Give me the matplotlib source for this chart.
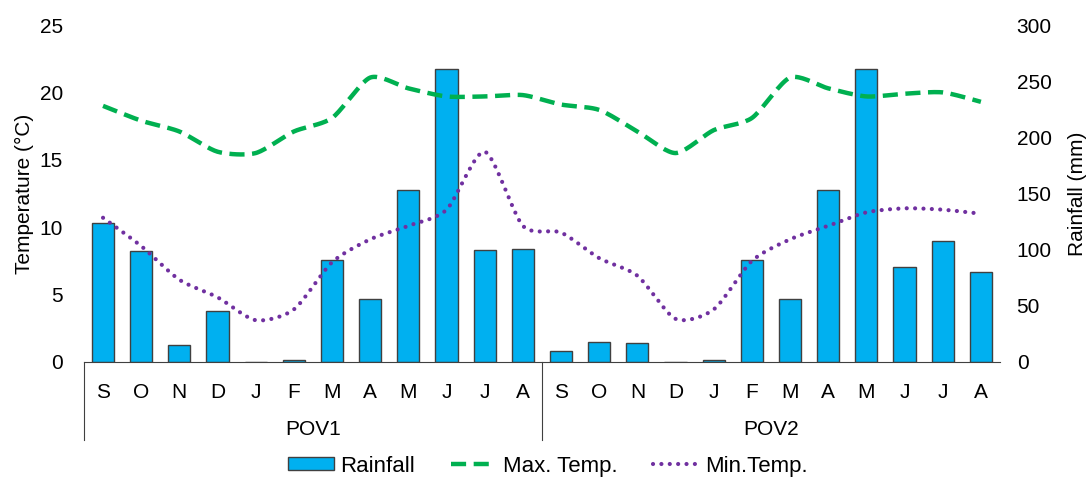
import numpy as np
import matplotlib.pyplot as plt
import matplotlib.transforms as mtransforms
from matplotlib.patches import Patch
from matplotlib.lines import Line2D

plt.rcParams['font.family'] = ['Liberation Sans', 'DejaVu Sans']

meses = ['S', 'O', 'N', 'D', 'J', 'F', 'M', 'A', 'M', 'J', 'J', 'A']
grupos = ['POV1', 'POV2']

lluvia_pov1 = [124, 99, 15, 45, 0, 2, 91, 56, 153, 261, 100, 101]
lluvia_pov2 = [10, 18, 17, 0, 2, 91, 56, 153, 261, 85, 108, 80]

tmax_pov1 = [19.0, 17.9, 17.1, 15.6, 15.5, 17.1, 18.1, 21.1, 20.3, 19.7, 19.7, 19.8]
tmax_pov2 = [19.1, 18.7, 17.1, 15.5, 17.2, 18.1, 21.1, 20.3, 19.7, 19.9, 20.0, 19.3]

tmin_pov1 = [10.7, 8.6, 6.1, 4.8, 3.1, 3.9, 7.4, 9.1, 10.1, 11.3, 15.6, 10.1]
tmin_pov2 = [9.6, 7.7, 6.4, 3.2, 3.9, 7.5, 9.1, 10.1, 11.1, 11.4, 11.3, 11.0]

lluvia = lluvia_pov1 + lluvia_pov2
tmax = tmax_pov1 + tmax_pov2
tmin = tmin_pov1 + tmin_pov2
etiquetas = meses * 2
x = np.arange(len(lluvia))


def suavizar(xs, ys, n=20, k=8):
    # curva suave tipo Excel (Bezier, puntos de control segun vecinos)
    xs = np.asarray(xs, float)
    ys = np.asarray(ys, float)
    px, py = [], []
    for i in range(len(xs) - 1):
        x0, y0 = (xs[i - 1], ys[i - 1]) if i > 0 else (xs[i], ys[i])
        x3, y3 = (xs[i + 2], ys[i + 2]) if i + 2 < len(xs) else (xs[i + 1], ys[i + 1])
        x1, y1 = xs[i], ys[i]
        x2, y2 = xs[i + 1], ys[i + 1]
        c1x, c1y = x1 + (x2 - x0) / k, y1 + (y2 - y0) / k
        c2x, c2y = x2 - (x3 - x1) / k, y2 - (y3 - y1) / k
        t = np.linspace(0, 1, n, endpoint=(i == len(xs) - 2))
        px.extend((1 - t) ** 3 * x1 + 3 * (1 - t) ** 2 * t * c1x + 3 * (1 - t) * t ** 2 * c2x + t ** 3 * x2)
        py.extend((1 - t) ** 3 * y1 + 3 * (1 - t) ** 2 * t * c1y + 3 * (1 - t) * t ** 2 * c2y + t ** 3 * y2)
    return np.array(px), np.array(py)


fig = plt.figure(figsize=(10.86, 4.79), dpi=100)
ax = fig.add_axes([0.0773, 0.2443, 0.8435, 0.7035])
ax2 = ax.twinx()

azul = '#00B0F0'
verde = '#00B050'
morado = '#7030A0'

ax.bar(x, lluvia, width=0.58, color=azul, edgecolor='#404040', linewidth=1)
ax.set_ylim(0, 300)
ax.set_yticks(np.arange(0, 301, 50))
ax.yaxis.tick_right()
ax.yaxis.set_label_position('right')
ax.set_ylabel('Rainfall (mm)', fontsize=15, labelpad=12)

sx, sy = suavizar(x, tmax)
ax2.plot(sx, sy, color=verde, linewidth=3.2, linestyle=(0, (3.4, 1.7)))
sx, sy = suavizar(x, tmin)
ax2.plot(sx, sy, color=morado, linewidth=3.0, linestyle=(0, (0.01, 2.0)),
         dash_capstyle='round')
ax2.set_ylim(0, 25)
ax2.set_yticks(np.arange(0, 26, 5))
ax2.yaxis.tick_left()
ax2.yaxis.set_label_position('left')
ax2.set_ylabel('Temperature (°C)', fontsize=15, labelpad=4)

for a in (ax, ax2):
    for s in ('top', 'left', 'right'):
        a.spines[s].set_visible(False)
    a.tick_params(axis='y', length=0, labelsize=15, pad=12)
ax2.tick_params(axis='y', pad=15)
ax2.spines['bottom'].set_visible(False)
ax.spines['bottom'].set_color('#404040')

ax.set_xlim(-0.5, len(x) - 0.5)
ax.set_xticks(x)
ax.set_xticklabels(etiquetas)
ax.tick_params(axis='x', length=0, labelsize=15, pad=15)

trans = mtransforms.blended_transform_factory(ax.transData, ax.transAxes)
for k, g in enumerate(grupos):
    ax.plot([k * 12 - 0.5, k * 12 - 0.5], [0, -0.232], transform=trans,
            color='#404040', linewidth=0.8, clip_on=False)
    ax.text(k * 12 + 5.5, -0.2, g, transform=trans, ha='center', va='center', fontsize=15)

handles = [Patch(facecolor=azul, edgecolor='#404040', linewidth=1),
           Line2D([], [], color=verde, linewidth=3.2, linestyle=(0, (3.4, 1.7))),
           Line2D([], [], color=morado, linewidth=3.0, linestyle=(0, (0.01, 2.0)),
                  dash_capstyle='round')]
fig.legend(handles, ['Rainfall', 'Max. Temp.', 'Min.Temp.'], loc='center',
           bbox_to_anchor=(0.5046, 0.027), ncol=3, frameon=False, fontsize=16,
           handlelength=2.05, handleheight=0.5, handletextpad=0.3, columnspacing=1.6)

fig.savefig('out.png', dpi=100)
